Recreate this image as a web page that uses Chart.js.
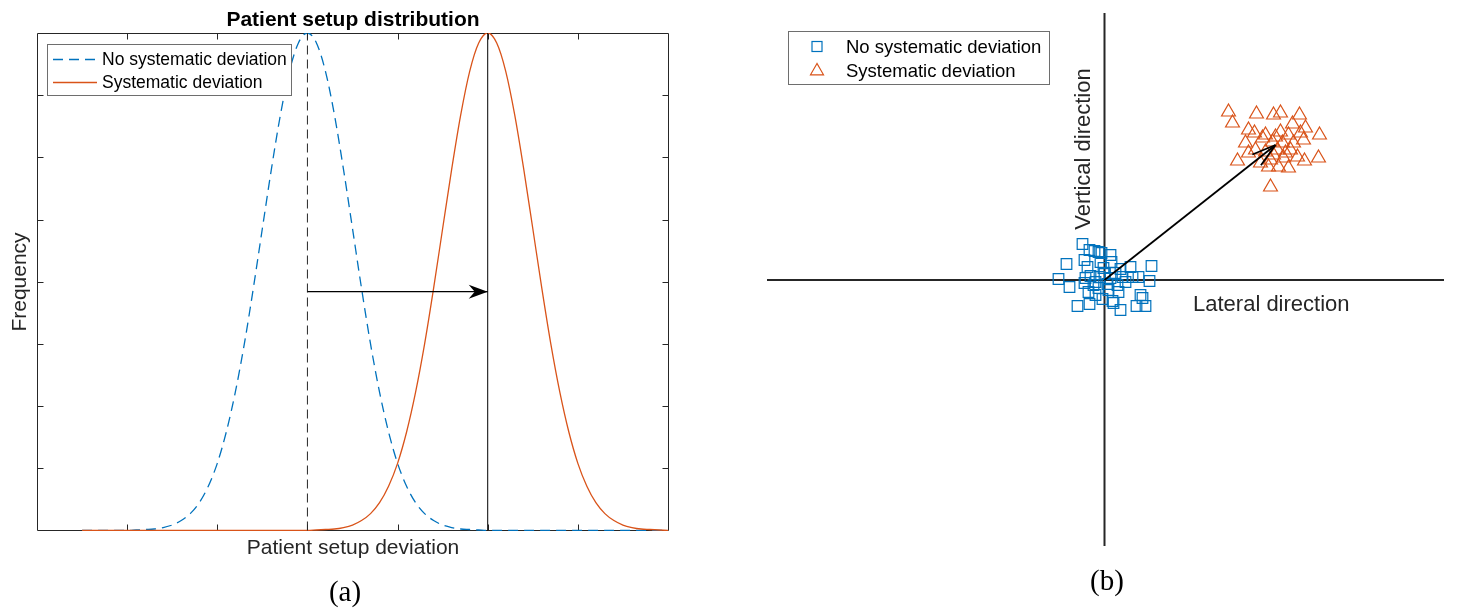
<!DOCTYPE html>
<html>
<head>
<meta charset="utf-8">
<title>Patient setup distribution</title>
<script src="https://cdn.jsdelivr.net/npm/chart.js@4.4.1/dist/chart.umd.min.js"></script>
<style>
  body { margin: 0; width: 1457px; height: 608px; background: #fff; position: relative; overflow: hidden;
         font-family: "Liberation Sans", Arial, sans-serif; color: #262626; }
  canvas { position: absolute; }
  .txt { position: absolute; line-height: 1; white-space: nowrap; }
  .mid { transform: translateX(-50%); }
  .rot { transform: translate(-50%, -50%) rotate(-90deg); }
  .serif { font-family: "Liberation Serif", "Times New Roman", serif; color: #000; }
  .legend { position: absolute; background: #fff; border: 1px solid #6e6e6e; box-sizing: border-box; }
  svg { position: absolute; left: 0; top: 0; }
</style>
</head>
<body>
<canvas id="distChart" width="635" height="501" style="left:35px;top:31px"></canvas>
<canvas id="scatterChart" width="677" height="533" style="left:767px;top:13px"></canvas>

<div class="legend" style="left:47px;top:44px;width:245px;height:52px"></div>
<div class="legend" style="left:788px;top:31px;width:262px;height:54px"></div>

<svg width="1457" height="608">
  <line x1="53" y1="59.5" x2="97" y2="59.5" stroke="#0072BD" stroke-width="1.3" stroke-dasharray="10 6"/>
  <line x1="53" y1="82.5" x2="97" y2="82.5" stroke="#D95319" stroke-width="1.3"/>
  <rect x="812" y="41.5" width="10" height="10" fill="none" stroke="#0072BD" stroke-width="1.2"/>
  <polygon points="817,63.5 810.5,74.8 823.5,74.8" fill="none" stroke="#D95319" stroke-width="1.2"/>
</svg>

<div class="txt mid" style="left:353px;top:7.7px;font-size:21px;font-weight:bold;color:#000">Patient setup distribution</div>
<div class="txt mid" style="left:353px;top:536px;font-size:21px">Patient setup deviation</div>
<div class="txt rot" style="left:17.7px;top:282px;font-size:21px">Frequency</div>
<div class="txt" style="left:102px;top:51.2px;font-size:17.5px;color:#000">No systematic deviation</div>
<div class="txt" style="left:102px;top:74.2px;font-size:17.5px;color:#000">Systematic deviation</div>
<div class="txt mid serif" style="left:345px;top:577px;font-size:29px">(a)</div>

<div class="txt" style="left:846px;top:37.6px;font-size:18.5px;color:#000">No systematic deviation</div>
<div class="txt" style="left:846px;top:62px;font-size:18.5px;color:#000">Systematic deviation</div>
<div class="txt" style="left:1193px;top:293px;font-size:22px">Lateral direction</div>
<div class="txt rot" style="left:1083px;top:149px;font-size:22px">Vertical direction</div>
<div class="txt mid serif" style="left:1107px;top:566px;font-size:29px">(b)</div>

<script>
// (a) setup deviation curves
const deviation = [-2.5, -2.4, -2.3, -2.2, -2.1, -2.0, -1.9, -1.8, -1.7, -1.6, -1.5, -1.4, -1.3, -1.2, -1.1,
  -1.0, -0.9, -0.8, -0.7, -0.6, -0.5, -0.4, -0.3, -0.2, -0.1, 0, 0.1, 0.2, 0.3, 0.4, 0.5, 0.6, 0.7, 0.8, 0.9,
  1.0, 1.1, 1.2, 1.3, 1.4, 1.5, 1.6, 1.7, 1.8, 1.9, 2.0, 2.1, 2.2, 2.3, 2.4, 2.5, 2.6, 2.7, 2.8, 2.9,
  3.0, 3.1, 3.2, 3.3, 3.4, 3.5, 3.6, 3.7, 3.8, 3.9, 4.0];
const noSystematic = [0, 0, 0, 0, 0, 0,
  0.001, 0.002, 0.003, 0.006, 0.011, 0.020, 0.034, 0.056, 0.089, 0.135, 0.198, 0.278, 0.375, 0.487, 0.607, 0.726, 0.835, 0.923, 0.980,
  1,
  0.980, 0.923, 0.835, 0.726, 0.607, 0.487, 0.375, 0.278, 0.198, 0.135, 0.089, 0.056, 0.034, 0.020, 0.011, 0.006, 0.003, 0.002, 0.001,
  0, 0, 0, 0, 0, 0, 0, 0, 0, 0, 0, 0, 0, 0, 0, 0, 0, 0, 0, 0, 0];
const systematic = [0, 0, 0, 0, 0, 0, 0, 0, 0, 0, 0, 0, 0, 0, 0, 0, 0, 0, 0, 0, 0, 0, 0, 0, 0, 0,
  0.001, 0.002, 0.003, 0.006, 0.011, 0.020, 0.034, 0.056, 0.089, 0.135, 0.198, 0.278, 0.375, 0.487, 0.607, 0.726, 0.835, 0.923, 0.980,
  1,
  0.980, 0.923, 0.835, 0.726, 0.607, 0.487, 0.375, 0.278, 0.198, 0.135, 0.089, 0.056, 0.034, 0.020, 0.011, 0.006, 0.003, 0.002, 0.001,
  0];
const meanNoSystematic = 0;
const meanSystematic = 2;
const shiftLevel = 0.48;
const xTicks = [-3, -2, -1, 0, 1, 2, 3, 4];
const yTicks = [0, 0.125, 0.25, 0.375, 0.5, 0.625, 0.75, 0.875, 1];

// (b) lateral / vertical setup errors
const lateralRange = [-33.75, 33.95];
const verticalRange = [-26.6, 26.7];
const squaresX = [-2.2, -1.5, -0.6, -0.3, -3.8, -2.0, -1.7, -0.4, 0.7, 4.7, 2.6, 1.6, -4.6, -3.5, -1.9, -0.9,
  0.0, 0.6, 1.8, 2.8, 3.4, 4.5, -1.6, -0.6, 0.4, 1.4, -0.9, 0.8, 3.6, 3.8, -2.7, -1.5, 1.6, 3.2, 4.1, 0.9,
  -1.1, 2.1, -0.1, 1.1, -1.4, 0.3, -0.5, 1.3, -2.0, -0.2, 0.6, -1.0];
const squaresY = [3.6, 3.0, 2.8, 2.7, 1.6, 2.0, 1.3, 1.8, 1.8, 1.4, 1.3, 1.1, 0.1, -0.7, 0.2, -0.2,
  0.6, 0.2, 0.3, 0.3, 0.3, -0.1, -1.2, -0.8, -1.0, -1.2, -1.5, -2.1, -1.5, -1.8, -2.6, -2.4, -3.0, -2.6, -2.6, -2.3,
  -0.5, -0.2, 1.2, 0.7, 0.4, -0.4, 0.3, -0.5, -0.3, -1.9, 2.5, 2.9];
const trianglesX = [12.4, 12.8, 15.2, 16.9, 17.6, 19.5, 18.8, 20.1, 14.4, 15.0, 16.1, 17.6, 18.4, 21.5, 19.9, 14.1,
  16.8, 17.8, 18.9, 15.1, 16.1, 17.3, 18.6, 14.4, 13.3, 15.6, 16.6, 17.9, 20.0, 21.4, 16.4, 17.4, 18.4, 16.6,
  19.6, 17.1, 15.8, 18.1, 16.9, 19.3];
const trianglesY = [16.8, 15.7, 16.6, 16.5, 16.7, 16.5, 15.6, 15.2, 15.0, 14.7, 14.5, 14.8, 14.5, 14.5, 14.0, 13.7,
  13.8, 13.7, 13.7, 13.0, 12.8, 13.0, 13.0, 12.7, 11.9, 11.7, 12.0, 12.2, 11.9, 12.2, 11.3, 11.3, 11.2, 9.3,
  14.7, 14.3, 14.2, 12.7, 12.5, 12.3];
const shiftX = [0, 17.1];
const shiftY = [0, 13.5];

const BLUE = '#0072BD';
const ORANGE = '#D95319';
const INK = '#262626';

function toPoints(xs, ys) {
  return xs.map((x, i) => ({ x: x, y: ys[i] }));
}

function arrowEnds(chart, label) {
  const idx = chart.data.datasets.findIndex(d => d.label === label);
  const pts = chart.getDatasetMeta(idx).data;
  return [pts[0], pts[pts.length - 1]];
}

// box with inward ticks, and the filled arrow head
const boxPlugin = {
  id: 'box',
  beforeDatasetsDraw(chart) {
    const { ctx, chartArea: a, scales } = chart;
    const top = a.top + 0.5, bottom = a.bottom - 0.5, left = a.left + 0.5, right = a.right + 0.5;
    ctx.save();
    ctx.strokeStyle = INK;
    ctx.lineWidth = 1;
    ctx.beginPath();
    ctx.moveTo(left, top); ctx.lineTo(right, top); ctx.lineTo(right, bottom);
    ctx.lineTo(left, bottom); ctx.closePath();
    xTicks.slice(1, -1).forEach(v => {
      const px = Math.round(scales.x.getPixelForValue(v)) + 0.5;
      ctx.moveTo(px, bottom); ctx.lineTo(px, bottom - 6);
      ctx.moveTo(px, top); ctx.lineTo(px, top + 6);
    });
    yTicks.slice(1, -1).forEach(v => {
      const py = Math.round(scales.y.getPixelForValue(v)) + 0.5;
      ctx.moveTo(left, py); ctx.lineTo(left + 6, py);
      ctx.moveTo(right, py); ctx.lineTo(right - 6, py);
    });
    ctx.stroke();
    ctx.restore();
  },
  afterDatasetsDraw(chart) {
    const [p0, p1] = arrowEnds(chart, 'shift');
    const ctx = chart.ctx;
    ctx.save();
    ctx.translate(p1.x, p1.y);
    ctx.rotate(Math.atan2(p1.y - p0.y, p1.x - p0.x));
    ctx.fillStyle = '#000';
    ctx.beginPath();
    ctx.moveTo(0, 0);
    ctx.lineTo(-19, -7);
    ctx.lineTo(-13, 0);
    ctx.lineTo(-19, 7);
    ctx.closePath();
    ctx.fill();
    ctx.restore();
  }
};

// open arrow head for the shift vector
const openHeadPlugin = {
  id: 'openHead',
  afterDatasetsDraw(chart) {
    const [p0, p1] = arrowEnds(chart, 'shift');
    const ctx = chart.ctx;
    const ang = Math.atan2(p1.y - p0.y, p1.x - p0.x);
    ctx.save();
    ctx.strokeStyle = '#000';
    ctx.lineWidth = 1.8;
    ctx.beginPath();
    [0.28, -0.28].forEach(d => {
      ctx.moveTo(p1.x, p1.y);
      ctx.lineTo(p1.x - 25 * Math.cos(ang + d), p1.y - 25 * Math.sin(ang + d));
    });
    ctx.stroke();
    ctx.restore();
  }
};

new Chart(document.getElementById('distChart'), {
  type: 'line',
  data: {
    datasets: [
      {
        label: 'No systematic deviation',
        data: toPoints(deviation, noSystematic),
        borderColor: BLUE,
        borderWidth: 1.3,
        borderDash: [10, 6],
        pointRadius: 0,
        cubicInterpolationMode: 'monotone',
        order: 3
      },
      {
        label: 'Systematic deviation',
        data: toPoints(deviation, systematic),
        borderColor: ORANGE,
        borderWidth: 1.3,
        pointRadius: 0,
        cubicInterpolationMode: 'monotone',
        order: 2
      },
      {
        label: 'mean no systematic',
        data: [{ x: meanNoSystematic, y: 0 }, { x: meanNoSystematic, y: 1 }],
        borderColor: INK,
        borderWidth: 1,
        borderDash: [9, 5],
        pointRadius: 0,
        order: 1
      },
      {
        label: 'mean systematic',
        data: [{ x: meanSystematic, y: 0 }, { x: meanSystematic, y: 1 }],
        borderColor: '#000',
        borderWidth: 1,
        pointRadius: 0,
        order: 1
      },
      {
        label: 'shift',
        data: [{ x: meanNoSystematic, y: shiftLevel }, { x: meanSystematic, y: shiftLevel }],
        borderColor: '#000',
        borderWidth: 1.3,
        pointRadius: 0,
        order: 0
      }
    ]
  },
  options: {
    responsive: false,
    animation: false,
    events: [],
    layout: { padding: { top: 2, left: 2, right: 2, bottom: 1 }, autoPadding: false },
    plugins: { legend: { display: false }, tooltip: { enabled: false } },
    scales: {
      x: { type: 'linear', min: xTicks[0], max: xTicks[xTicks.length - 1], display: false },
      y: { type: 'linear', min: -0.001, max: yTicks[yTicks.length - 1], display: false }
    }
  },
  plugins: [boxPlugin]
});

new Chart(document.getElementById('scatterChart'), {
  type: 'scatter',
  data: {
    datasets: [
      {
        label: 'shift',
        data: toPoints(shiftX, shiftY),
        showLine: true,
        borderColor: '#000',
        borderWidth: 1.8,
        pointRadius: 0,
        order: 0
      },
      {
        label: 'No systematic deviation',
        data: toPoints(squaresX, squaresY),
        pointStyle: 'rect',
        pointRadius: 7.5,
        borderColor: BLUE,
        backgroundColor: 'rgba(0,0,0,0)',
        borderWidth: 1.2,
        order: 2
      },
      {
        label: 'Systematic deviation',
        data: toPoints(trianglesX, trianglesY),
        pointStyle: 'triangle',
        pointRadius: 8,
        borderColor: ORANGE,
        backgroundColor: 'rgba(0,0,0,0)',
        borderWidth: 1.2,
        order: 1
      },
      {
        label: 'lateral axis',
        data: [{ x: lateralRange[0], y: 0 }, { x: lateralRange[1], y: 0 }],
        showLine: true,
        borderColor: INK,
        borderWidth: 2,
        pointRadius: 0,
        order: 3
      },
      {
        label: 'vertical axis',
        data: [{ x: 0, y: verticalRange[0] }, { x: 0, y: verticalRange[1] }],
        showLine: true,
        borderColor: INK,
        borderWidth: 2,
        pointRadius: 0,
        order: 3
      }
    ]
  },
  options: {
    responsive: false,
    animation: false,
    events: [],
    layout: { padding: 0, autoPadding: false },
    plugins: { legend: { display: false }, tooltip: { enabled: false } },
    scales: {
      x: { type: 'linear', min: lateralRange[0], max: lateralRange[1], display: false },
      y: { type: 'linear', min: verticalRange[0], max: verticalRange[1], display: false }
    }
  },
  plugins: [openHeadPlugin]
});
</script>
</body>
</html>
